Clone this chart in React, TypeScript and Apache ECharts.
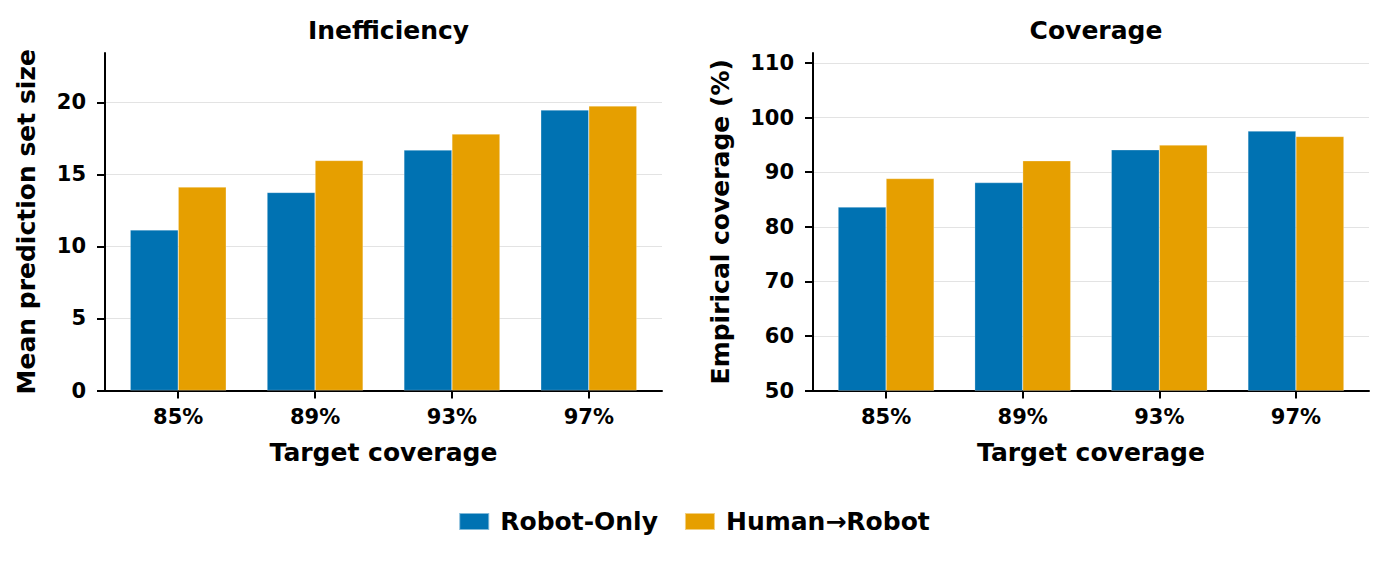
import React, { useEffect, useRef } from "react";
import * as echarts from "echarts";

const categories = ["85%", "89%", "93%", "97%"];
const categoryPositions = [0, 1, 2, 3];
const seriesNames = ["Robot-Only", "Human→Robot"];
const ineffRobotOnly = [11.15, 13.75, 16.69, 19.47];
const ineffHumanRobot = [14.12, 15.97, 17.8, 19.75];
const covRobotOnly = [83.6, 88.1, 94.1, 97.53];
const covHumanRobot = [88.84, 92.09, 94.97, 96.55];
const ineffTicks = [0, 5, 10, 15, 20];
const covTicks = [50, 60, 70, 80, 90, 100, 110];
const panelTitles = ["Inefficiency", "Coverage"];
const yNames = ["Mean prediction set size", "Empirical coverage (%)"];
const xName = "Target coverage";

const COLORS = ["#0072B2", "#E69F00"];
const FONT = "DejaVu Sans";

export default function App() {
  const ref = useRef<HTMLDivElement>(null);
  useEffect(() => {
    if (!ref.current) return;
    const chart = echarts.init(ref.current, null, { renderer: "svg" });
    const axisLine = { show: true, onZero: false, lineStyle: { color: "#000", width: 2 } };
    const axisTick = (vals: number[]) => ({
      show: true,
      inside: false,
      length: 8,
      lineStyle: { color: "#000", width: 2 },
      customValues: vals,
    });
    const labelStyle = { color: "#000", fontFamily: FONT, fontWeight: "bold" as const, fontSize: 21 };
    const nameStyle = { color: "#000", fontFamily: FONT, fontWeight: "bold" as const, fontSize: 25 };
    const makeX = (gridIndex: number) => ({
      type: "value",
      gridIndex,
      min: -0.535,
      max: 3.535,
      name: xName,
      nameLocation: "middle",
      nameGap: 49,
      nameTextStyle: nameStyle,
      axisLine,
      axisTick: axisTick(categoryPositions),
      axisLabel: {
        ...labelStyle,
        margin: 16,
        customValues: categoryPositions,
        formatter: (v: number) => categories[Math.round(v)] ?? "",
      },
      splitLine: { show: false },
    });
    const makeY = (
      gridIndex: number,
      min: number,
      max: number,
      ticks: number[],
      name: string,
      nameGap: number
    ) => ({
      type: "value",
      gridIndex,
      min,
      max,
      name,
      nameLocation: "middle",
      nameGap,
      nameTextStyle: nameStyle,
      axisLine,
      axisTick: axisTick(ticks),
      axisLabel: { ...labelStyle, margin: 19, customValues: ticks },
      splitLine: { show: true, lineStyle: { color: "#e3e3e3", width: 1 } },
    });
    const bar = (name: string, idx: number, values: number[], color: string) => ({
      type: "bar",
      name,
      xAxisIndex: idx,
      yAxisIndex: idx,
      data: values.map((v, i) => [categoryPositions[i], v]),
      barWidth: 48,
      barGap: "0%",
      itemStyle: { color, borderColor: "rgba(255,255,255,0.5)", borderWidth: 0.5 },
    });
    chart.setOption({
      animation: false,
      backgroundColor: "#fff",
      title: [
        {
          text: panelTitles[0],
          left: 383.5,
          top: 13,
          textAlign: "center",
          textStyle: nameStyle,
        },
        {
          text: panelTitles[1],
          left: 1091,
          top: 13,
          textAlign: "center",
          textStyle: nameStyle,
        },
      ],
      legend: {
        data: seriesNames,
        left: "center",
        top: 504,
        icon: "rect",
        itemWidth: 30,
        itemHeight: 17,
        itemGap: 26,
        textStyle: { ...nameStyle, padding: [0, 0, 0, 6] },
      },
      grid: [
        { left: 105, width: 557, top: 53, height: 337.5, containLabel: false },
        { left: 813, width: 556, top: 53, height: 337.5, containLabel: false },
      ],
      xAxis: [makeX(0), makeX(1)],
      yAxis: [
        makeY(0, 0, 23.43, ineffTicks, yNames[0], 66),
        makeY(1, 50, 111.84, covTicks, yNames[1], 80),
      ],
      series: [
        bar(seriesNames[0], 0, ineffRobotOnly, COLORS[0]),
        bar(seriesNames[1], 0, ineffHumanRobot, COLORS[1]),
        bar(seriesNames[0], 1, covRobotOnly, COLORS[0]),
        bar(seriesNames[1], 1, covHumanRobot, COLORS[1]),
      ],
    });
    return () => chart.dispose();
  }, []);
  return (
    <div
      ref={ref}
      style={{ position: "absolute", left: 0, top: 0, width: 1388, height: 565 }}
    />
  );
}
